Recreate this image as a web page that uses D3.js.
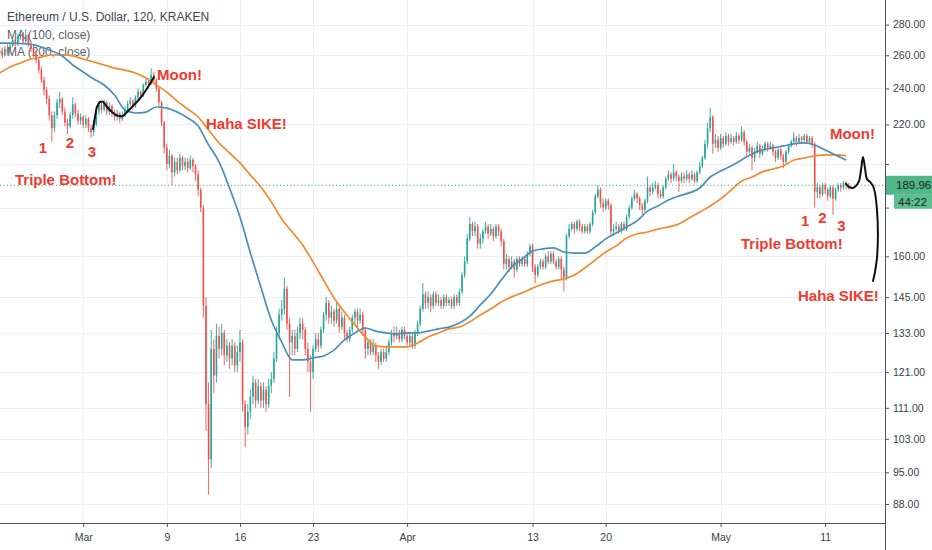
<!DOCTYPE html>
<html><head><meta charset="utf-8">
<script src="https://cdn.jsdelivr.net/npm/d3@7"></script>
<style>body{margin:0;background:#fff}svg{display:block}</style>
</head><body>
<svg id="chart" width="932" height="550"></svg>
<script>
// ---------------- DATA ----------------
const title = "Ethereum / U.S. Dollar, 120, KRAKEN";
const legendTexts = ["MA (100, close)", "MA (200, close)"];

// 6-hour candles starting 2020-02-22 00:00 UTC (open = previous close)
const candleStart = "2020-02-22T00:00:00Z";
const candleHours = 6;
const firstOpen = 261;
const closes = [
263,260,264,262, 266,270,267,272, 274,269,273,267, 264,261,257,251,
245,239,234,225, 218,225,232,234, 227,221,219,225, 231,226,222,224,
220,223,218,216, 220,227,231,228, 232,227,230,226, 224,226,223,225,
228,231,233,230, 235,238,236,242, 244,243,248,245, 240,232,221,208,
200,204,196,201, 197,203,199,201, 198,202,199,195, 188,180,142,112,
98,128,120,132, 128,133,126,129, 125,129,123,127, 130,112,106,110,
114,118,113,117, 113,116,112,117, 119,125,133,139, 141,148,136,130,
132,128,133,136, 134,128,124,121, 128,131,129,134, 139,143,138,140,
137,141,135,138, 133,131,134,138, 140,137,139,134, 128,130,127,129,
126,124,127,125, 127,130,133,132, 133,131,134,132, 130,132,129,133,
136,141,146,143, 145,142,146,143, 144,142,145,143, 144,142,145,143,
147,153,158,167, 173,170,172,165, 167,170,172,169, 171,168,172,170,
166,157,159,156, 158,155,159,157, 159,157,161,164, 156,153,156,158,
156,160,158,161, 158,156,159,155, 152,168,171,173, 171,174,172,170,
172,170,173,178, 185,188,182,180, 183,181,170,171, 172,170,173,171,
176,180,184,186, 184,181,179,183, 189,187,189,190, 186,185,189,193,
195,193,196,194, 192,194,193,195, 193,195,192,196, 199,203,210,218,
224,210,212,208, 213,210,214,211, 213,211,214,212, 216,211,206,208,
203,206,209,205, 207,210,208,209, 206,203,207,204, 201,206,209,211,
213,211,213,212, 214,211,213,210, 187,189,186,190, 188,185,189,184,
188,190,189,191, 190,189.96];
const highs = [
266,265,266,267, 268,272,271,274, 276,275,277,274, 269,266,263,259,
253,247,241,236, 227,227,234,238, 235,229,223,227, 235,232,228,226,
225,225,224,220, 222,229,233,232, 234,233,232,231, 228,228,227,227,
230,233,235,234, 236,240,239,243, 246,246,252,250, 246,241,233,222,
210,207,205,203, 203,205,204,203, 203,204,203,200, 197,189,181,145,
118,134,131,136, 135,136,134,131, 130,131,130,129, 134,131,113,112,
116,120,119,119, 118,118,117,119, 121,127,135,141, 144,152,149,138,
134,134,135,138, 138,135,130,126, 129,133,133,135, 140,145,144,142,
141,143,142,140, 139,134,135,139, 141,141,141,140, 135,131,131,131,
130,127,128,128, 129,131,134,135, 135,134,135,135, 133,133,133,134,
137,142,150,147, 147,146,147,147, 146,145,146,146, 145,145,146,146,
148,154,160,169, 176,174,174,173, 169,171,174,173, 173,172,173,173,
171,167,161,160, 160,159,160,160, 160,160,162,165, 165,157,157,159,
159,161,162,162, 162,159,160,160, 156,169,173,174, 174,175,175,173,
173,173,174,179, 186,190,189,184, 184,184,182,173, 174,173,174,174,
177,181,185,188, 187,185,182,184, 194,190,191,192, 191,188,190,194,
197,196,200,197, 195,196,196,197, 196,197,196,197, 201,204,212,221,
229,225,215,214, 215,214,216,215, 215,214,216,215, 219,217,212,210,
209,208,211,210, 209,211,211,211, 210,207,208,208, 205,207,210,212,
216,214,215,214, 215,215,214,214, 211,191,190,191, 191,189,190,190,
189,191,191,192, 192,191];
const lows = [
259,258,259,260, 261,265,264,266, 270,267,268,265, 262,259,255,249,
243,236,231,222, 211,216,223,229, 225,219,215,218, 223,224,220,220,
218,218,216,213, 214,219,225,226, 227,225,225,224, 222,222,221,222,
224,227,230,228, 229,234,234,235, 241,240,242,243, 238,230,219,205,
197,198,190,194, 195,196,197,197, 196,197,196,192, 185,178,138,105,
90,96,115,118, 125,126,123,124, 122,123,121,121, 124,110,101,104,
108,112,111,112, 111,111,110,111, 115,118,124,131, 137,139,134,114,
126,126,127,131, 131,126,121,110, 119,127,127,128, 133,137,136,136,
135,136,133,134, 131,130,130,133, 136,135,136,132, 125,126,126,126,
124,122,123,124, 124,126,129,130, 131,130,130,131, 129,129,128,128,
132,135,140,141, 141,140,141,142, 142,141,141,142, 142,141,141,142,
142,146,152,157, 166,168,168,163, 163,165,169,167, 168,166,167,168,
164,155,155,154, 155,152,154,156, 156,156,156,160, 154,150,152,155,
155,155,157,157, 157,155,155,151, 147,151,167,170, 169,170,170,169,
169,169,169,172, 177,184,180,178, 179,179,168,168, 170,169,169,170,
170,175,179,183, 182,179,177,178, 182,185,186,188, 184,184,184,188,
192,191,192,192, 187,191,191,192, 191,192,191,191, 195,198,202,208,
216,205,208,206, 207,208,209,209, 210,209,210,210, 211,209,204,205,
197,201,205,203, 204,206,206,207, 204,201,202,202, 198,200,205,208,
210,209,210,210, 211,210,210,208, 180,184,184,185, 186,183,184,177,
183,187,187,188, 188,188];

// daily moving-average readings starting 2020-02-22 00:00 UTC
const maStart = "2020-02-22T00:00:00Z";
const ma100 = [
267.8,267.8,267.5,266.9,265.3,262.7,259.6,254.0,249.7,245.5,242.0,236.2,227.8,226.2,226.7,229.5,
228.9,226.7,223.5,219.2,209.4,201.0,188.7,176.0,161.3,148.6,137.2,130.1,124.6,124.6,125.2,125.8,
127.6,130.8,133.0,134.6,133.6,133.0,132.7,133.0,133.0,133.6,134.3,134.9,136.2,138.5,142.3,146.1,
151.1,156.0,159.0,162.1,162.9,163.3,161.7,161.3,161.3,163.7,166.9,169.3,171.8,174.3,178.5,180.7,
183.3,185.1,186.5,188.7,193.8,196.6,199.0,201.9,204.9,206.9,207.9,208.9,209.9,210.4,209.4,206.9,
204.4,201.9];
const ma200 = [
249.1,252.8,255.2,257.7,258.9,260.2,260.2,259.6,257.7,255.8,254.0,252.1,250.9,249.1,246.1,242.0,
237.9,232.8,228.4,224.0,217.1,210.4,205.4,200.5,194.7,189.2,182.5,175.1,169.7,164.5,157.8,151.1,
144.7,139.9,135.6,131.7,128.9,128.6,128.6,128.6,129.8,131.7,133.0,134.3,134.9,136.6,138.9,140.9,
143.3,145.1,146.5,148.2,149.7,150.8,151.5,153.0,155.6,158.6,161.7,164.1,167.3,168.9,169.7,170.9,
171.8,173.0,175.5,178.1,180.7,183.8,187.8,191.9,193.8,196.2,197.6,199.0,201.9,202.9,203.9,204.4,
204.4,203.9];

const priceTicks = [88,95,103,111,121,133,145,160,180,200,220,240,260,280];
const dateTicks = ["2020-03-01","2020-03-09","2020-03-16","2020-03-23","2020-04-01",
                   "2020-04-13","2020-04-20","2020-05-01","2020-05-11"];
const lastPrice = 189.96;
const countdown = "44:22";

// annotations (day offset from 2020-03-01, price)
const noteTexts  = ["Moon!","Haha SIKE!","1","2","3","Triple Bottom!","Moon!","1","2","3","Triple Bottom!","Haha SIKE!"];
const noteDays   = [7.06, 11.75, -3.85, -1.26, 0.84, -6.53, 71.46, 69.1, 70.75, 72.55, 62.95, 68.4];
const notePrices = [247.9, 220.3, 207.9, 210.4, 205.9, 192.4, 215.0, 174.3, 175.5, 172.2, 164.9, 145.4];

// hand drawn strokes (day offset from 2020-03-01, price)
const drawLeftDays   = [0.94,1.13,1.32,1.61,1.90,2.28,2.76,3.33,3.81,4.29,4.96,5.63,6.20,6.78];
const drawLeftPrices = [217.6,224.0,229.5,232.3,232.3,229.5,226.7,224.6,224.6,227.3,231.2,235.7,240.8,246.7];
const drawRightDays   = [73.0,73.28,73.66,73.95,74.24,74.43,74.62,74.81,75.0,75.29,75.58,75.77,75.96,76.05,75.96,75.77,75.58];
const drawRightPrices = [190.6,189.2,188.7,189.7,191.9,197.1,203.4,198.1,192.9,191.5,189.7,186.5,179.0,168.5,159.4,154.1,150.8];

// ---------------- CHART ----------------
const W = 932, H = 550, plotR = 885, plotB = 523;
const svg = d3.select("#chart");
const DAY = 864e5, HOUR = 36e5;
const mar1 = Date.parse("2020-03-01T00:00:00Z");
const x = d3.scaleUtc()
  .domain([new Date("2020-03-01T00:00:00Z"), new Date("2020-05-11T00:00:00Z")])
  .range([83.2, 825.15]);
const y = d3.scaleLog().domain([88, 280]).range([504, 24.6]);
const dayDate = d => new Date(mar1 + d * DAY);

svg.append("rect").attr("width", W).attr("height", H).attr("fill", "#fff");
svg.append("defs").append("clipPath").attr("id", "plot")
  .append("rect").attr("x", 0).attr("y", 0).attr("width", plotR).attr("height", plotB);

const grid = svg.append("g").attr("clip-path", "url(#plot)");
grid.selectAll("line.h").data(priceTicks).join("line")
  .attr("x1", 0).attr("x2", plotR)
  .attr("y1", d => Math.round(y(d)) + 0.5).attr("y2", d => Math.round(y(d)) + 0.5)
  .attr("stroke", "#eceff4").attr("stroke-width", 1);
grid.selectAll("line.v").data(dateTicks).join("line")
  .attr("y1", 0).attr("y2", plotB)
  .attr("x1", d => Math.round(x(new Date(d + "T00:00:00Z"))) + 0.5)
  .attr("x2", d => Math.round(x(new Date(d + "T00:00:00Z"))) + 0.5)
  .attr("stroke", "#eceff4").attr("stroke-width", 1);

// legend text (under candles)
const leg = svg.append("g").attr("font-family", "'Liberation Sans', Arial, sans-serif").attr("font-size", 12);
leg.append("text").attr("x", 7).attr("y", 21).attr("fill", "#434651").text(title);
legendTexts.forEach((t, i) => leg.append("text").attr("x", 7).attr("y", 38.5 + i * 17.5).attr("fill", "#5d606b").text(t));

// candles
const t0 = Date.parse(candleStart);
const candles = closes.map((c, i) => ({
  t: new Date(t0 + i * candleHours * HOUR),
  o: i === 0 ? firstOpen : closes[i - 1], h: highs[i], l: lows[i], c: c
}));
const step = x(new Date(t0 + candleHours * HOUR)) - x(new Date(t0));
const bw = step * 0.62;
const UP = "#26a69a", DOWN = "#ef5350";
const cg = svg.append("g").attr("clip-path", "url(#plot)");
cg.selectAll("line.w").data(candles).join("line")
  .attr("x1", d => x(d.t)).attr("x2", d => x(d.t))
  .attr("y1", d => y(d.h)).attr("y2", d => y(d.l))
  .attr("stroke", d => d.c >= d.o ? UP : DOWN).attr("stroke-width", 0.9);
cg.selectAll("rect.b").data(candles).join("rect")
  .attr("x", d => x(d.t) - bw / 2).attr("width", bw)
  .attr("y", d => y(Math.max(d.o, d.c)))
  .attr("height", d => Math.max(0.8, Math.abs(y(d.o) - y(d.c))))
  .attr("fill", d => d.c >= d.o ? UP : DOWN);

// moving averages
const m0 = Date.parse(maStart);
const maLine = d3.line().x((d, i) => x(new Date(m0 + i * DAY))).y(d => y(d)).curve(d3.curveMonotoneX);
cg.append("path").attr("d", maLine(ma200)).attr("fill", "none").attr("stroke", "#f5892b").attr("stroke-width", 1.7);
cg.append("path").attr("d", maLine(ma100)).attr("fill", "none").attr("stroke", "#4a8fb8").attr("stroke-width", 1.7);

// last price dotted line
cg.append("line").attr("x1", 0).attr("x2", plotR)
  .attr("y1", y(lastPrice)).attr("y2", y(lastPrice))
  .attr("stroke", "#26a69a").attr("stroke-width", 1).attr("stroke-dasharray", "1,2.5");

// hand drawings
const dl = d3.line().x(d => x(dayDate(d[0]))).y(d => y(d[1])).curve(d3.curveCatmullRom);
svg.append("path").attr("d", dl(drawLeftDays.map((d, i) => [d, drawLeftPrices[i]])))
  .attr("fill", "none").attr("stroke", "#111").attr("stroke-width", 2).attr("stroke-linecap", "round");
svg.append("path").attr("d", dl(drawRightDays.map((d, i) => [d, drawRightPrices[i]])))
  .attr("fill", "none").attr("stroke", "#111").attr("stroke-width", 2).attr("stroke-linecap", "round");

// text annotations
svg.append("g").attr("font-family", "'Liberation Sans', Arial, sans-serif")
  .attr("font-size", 15).attr("font-weight", "bold").attr("fill", "#ef3b2f")
  .selectAll("text").data(noteTexts).join("text")
  .attr("x", (d, i) => x(dayDate(noteDays[i])))
  .attr("y", (d, i) => y(notePrices[i]))
  .attr("dy", "0.36em")
  .attr("text-anchor", d => d.length === 1 ? "middle" : "start")
  .text(d => d);

// axes
const axisFont = "'Liberation Sans', Arial, sans-serif";
const yAxis = svg.append("g").attr("transform", `translate(${plotR},0)`)
  .call(d3.axisRight(y).tickValues(priceTicks).tickFormat(d3.format(".2f")).tickSize(4).tickPadding(4));
yAxis.select(".domain").remove();
yAxis.selectAll("line").attr("stroke", "#50535e");
yAxis.selectAll("text").attr("font-family", axisFont).attr("font-size", 10.5).attr("fill", "#3b3e48")
  .style("display", d => Math.abs(y(d) - y(lastPrice)) < 26 ? "none" : null);

const xAxis = svg.append("g").attr("transform", `translate(0,${plotB})`)
  .call(d3.axisBottom(x).tickValues(dateTicks.map(d => new Date(d + "T00:00:00Z")))
    .tickFormat(d => d.getUTCDate() === 1 ? d3.utcFormat("%b")(d) : String(d.getUTCDate()))
    .tickSize(4).tickPadding(7));
xAxis.select(".domain").remove();
xAxis.selectAll("line").attr("stroke", "#50535e");
xAxis.selectAll("text").attr("font-family", axisFont).attr("font-size", 10.5).attr("fill", "#3b3e48");

svg.append("line").attr("x1", 0).attr("x2", plotR).attr("y1", plotB + 0.5).attr("y2", plotB + 0.5)
  .attr("stroke", "#50535e").attr("stroke-width", 1);
svg.append("line").attr("x1", plotR + 0.5).attr("x2", plotR + 0.5).attr("y1", 0).attr("y2", H)
  .attr("stroke", "#50535e").attr("stroke-width", 1);

// price badges
const py = y(lastPrice);
svg.append("rect").attr("x", plotR + 1).attr("y", py - 9.5).attr("width", W - plotR - 1).attr("height", 19).attr("fill", "#52b788");
svg.append("text").attr("x", 896).attr("y", py + 4).attr("font-family", axisFont).attr("font-size", 11.5)
  .attr("fill", "#14281d").text(d3.format(".2f")(lastPrice));
svg.append("rect").attr("x", 894).attr("y", py + 9.5).attr("width", W - 894).attr("height", 14).attr("fill", "#5cbf8e");
svg.append("text").attr("x", 898).attr("y", py + 20.5).attr("font-family", axisFont).attr("font-size", 11.5)
  .attr("fill", "#14281d").text(countdown);
</script>
</body></html>
